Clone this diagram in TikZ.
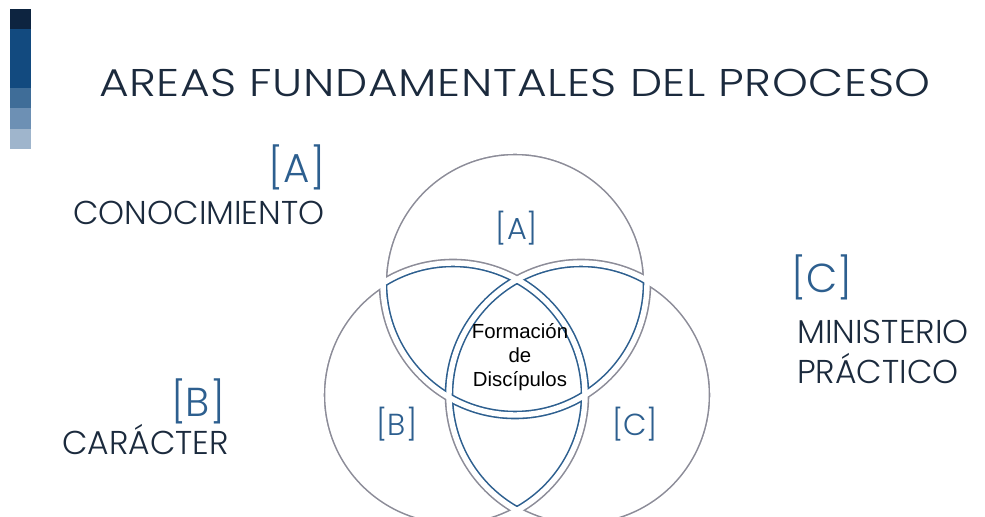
\documentclass[tikz,border=0pt]{standalone}
\usepackage{fontspec}
\setmainfont{Poppins Light}
\newfontfamily\headface{Poppins Light}[FakeStretch=1.18,LetterSpace=1.5]
\newfontfamily\arialfont{Liberation Sans}
\usetikzlibrary{positioning}

\definecolor{navy}{HTML}{1B2A3D}
\definecolor{setblue}{HTML}{2D5F8F}
\definecolor{ringgray}{HTML}{8C8C98}
\definecolor{barone}{HTML}{0D2440}
\definecolor{bartwo}{HTML}{124A7F}
\definecolor{barthree}{HTML}{3F6D98}
\definecolor{barfour}{HTML}{6D90B4}
\definecolor{barfive}{HTML}{9FB5CC}

\newcommand\ring{132}
\newcommand\insetlines[1]{%
 \foreach \c in {cA,cB,cC} \draw[line width=4.9pt,#1] (\c) circle [radius=\ring];}
\newcommand\outside[1]{\clip (-10,-10) rectangle (1000,530) (#1) circle [radius=\ring];}

\tikzset{
 heading/.style={anchor=base,inner sep=0pt,text=navy,font=\headface\fontsize{22}{26}\selectfont},
 bigtag/.style={anchor=base,inner sep=0pt,text=setblue,font=\fontsize{23}{27}\selectfont},
 areaname/.style={anchor=base west,inner sep=0pt,text=navy,font=\fontsize{18.8}{22}\selectfont},
 settag/.style={anchor=base,inner sep=0pt,text=setblue,font=\fontsize{17.3}{21}\selectfont},
 core/.style={align=center,inner sep=0pt,text=black,font=\arialfont\fontsize{11.6}{13.7}\selectfont}
}

\begin{document}
\begin{tikzpicture}[x=0.02cm,y=-0.02cm]
 \fill[white] (0,0) rectangle (985,517);
 \clip (0,0) rectangle (985,517);
 % side bar
 \fill[barone] (10,9) rectangle (31,29);
 \fill[bartwo] (10,29) rectangle (31,88);
 \fill[barthree] (10,88) rectangle (31,108);
 \fill[barfour] (10,108) rectangle (31,129);
 \fill[barfive] (10,129) rectangle (31,149);

 \node[heading] (title) at (515,97) {AREAS FUNDAMENTALES DEL PROCESO};

 \coordinate (cA) at (515,283);
 \coordinate (cB) at (453,395);
 \coordinate (cC) at (581,395);

 % outer parts
 \begin{scope}[even odd rule]
  \clip (cA) circle [radius=\ring]; \outside{cB}\outside{cC}
  \insetlines{ringgray}
 \end{scope}
 \begin{scope}[even odd rule]
  \clip (cB) circle [radius=\ring]; \outside{cA}\outside{cC}
  \insetlines{ringgray}
 \end{scope}
 \begin{scope}[even odd rule]
  \clip (cC) circle [radius=\ring]; \outside{cA}\outside{cB}
  \insetlines{ringgray}
 \end{scope}
 % lenses
 \begin{scope}[even odd rule]
  \clip (cA) circle [radius=\ring]; \clip (cB) circle [radius=\ring]; \outside{cC}
  \insetlines{setblue}
 \end{scope}
 \begin{scope}[even odd rule]
  \clip (cA) circle [radius=\ring]; \clip (cC) circle [radius=\ring]; \outside{cB}
  \insetlines{setblue}
 \end{scope}
 \begin{scope}[even odd rule]
  \clip (cB) circle [radius=\ring]; \clip (cC) circle [radius=\ring]; \outside{cA}
  \insetlines{setblue}
 \end{scope}
 % centre
 \begin{scope}
  \clip (cA) circle [radius=\ring]; \clip (cB) circle [radius=\ring]; \clip (cC) circle [radius=\ring];
  \insetlines{setblue}
 \end{scope}
 % gaps between the parts
 \foreach \c in {cA,cB,cC} \draw[line width=3.1pt,white] (\c) circle [radius=\ring];

 \node[settag] (inA) at (517,239) {[A]};
 \node[settag] (inB) at (397,435) {[B]};
 \node[settag] (inC) at (635,435) {[C]};
 \node[core] (disc) at (520,357) {Formación\\de\\Discípulos};

 \node[bigtag] (tagA) at (297,183) {[A]};
 \node[areaname] (know) at (73,225) {CONOCIMIENTO};
 \node[bigtag] (tagB) at (198,417) {[B]};
 \node[areaname] (char) at (62,454) {CARÁCTER};
 \node[bigtag] (tagC) at (822,293) {[C]};
 \node[areaname] (mini) at (797,343) {MINISTERIO};
 \node[areaname] (prac) at (797,383) {PRÁCTICO};
\end{tikzpicture}
\end{document}
